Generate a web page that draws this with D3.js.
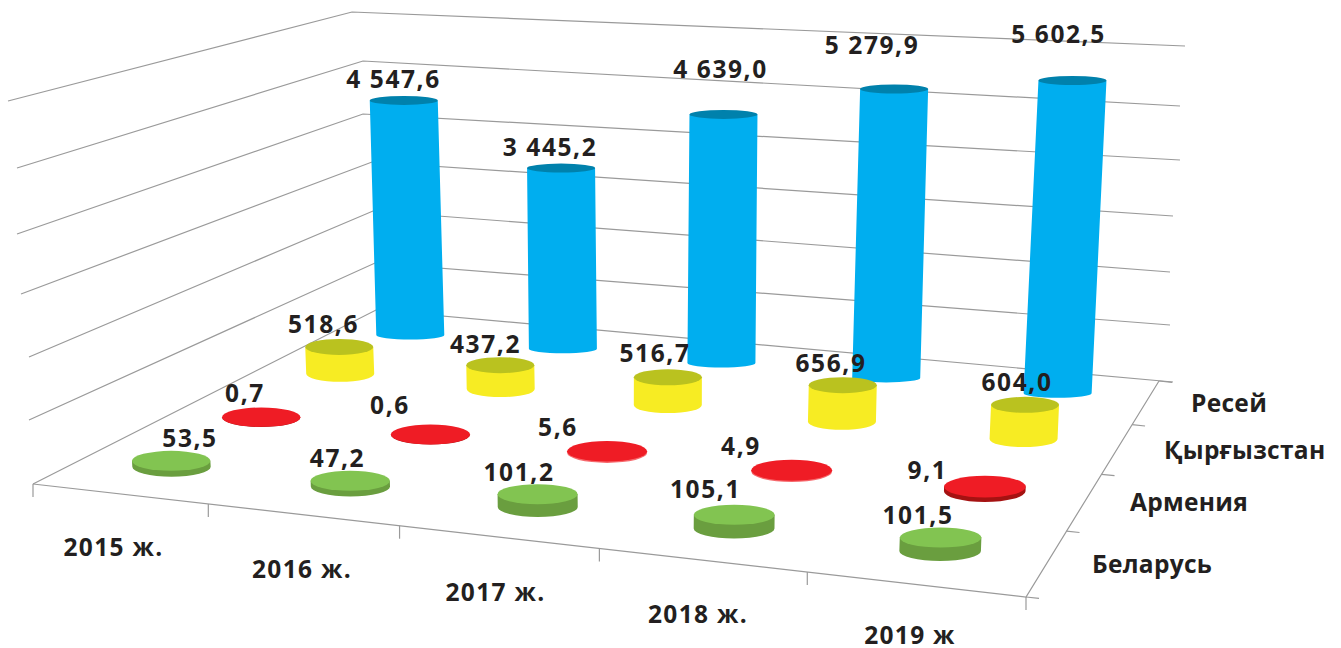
<!DOCTYPE html>
<html>
<head>
<meta charset="utf-8">
<script src="https://cdn.jsdelivr.net/npm/d3@7"></script>
<style>
html,body{margin:0;padding:0;background:#fff}
svg{display:block}
text{font-family:"Open Sans","Noto Sans",sans-serif;font-weight:700;fill:#231F20;font-size:24.5px}
text.val{letter-spacing:1.6px}
text.yr{letter-spacing:1.3px}
text.ser{letter-spacing:.3px}
</style>
</head>
<body>
<svg id="c" width="1341" height="648"></svg>
<script>
// ---- data ----
const years = ["2015 ж.", "2016 ж.", "2017 ж.", "2018 ж.", "2019 ж"];
const seriesNames = ["Беларусь", "Армения", "Қырғызстан", "Ресей"];
const belarus = [53.5, 47.2, 101.2, 105.1, 101.5];
const armenia = [0.7, 0.6, 5.6, 4.9, 9.1];
const kyrgyzstan = [518.6, 437.2, 516.7, 656.9, 604.0];
const russia = [4547.6, 3445.2, 4639.0, 5279.9, 5602.5];
const gridLevels = [0, 1000, 2000, 3000, 4000, 5000, 6000];

// ---- layout ----
const values = [belarus, armenia, kyrgyzstan, russia];
const sideColors = ["#6A9E3F", "#A51212", "#F7EC23", "#00AEEF"];
const topColors = ["#82C451", "#EF1C25", "#BAC21F", "#0081AC"];
const rxStart = [39, 39, 34, 34], rxEnd = [41, 41, 34, 34];
const ryStart = [10, 9.5, 8, 4.5], ryEnd = [10, 11, 8, 4.5];
const labelX = [[190,337.5,519,705.5,918],[245,390,558,741,927.5],[323.5,485.5,655,831,1017],[393.5,550,720.5,872,1058.5]];
const labelY = [[447,467,481,498,524],[402,414,436,455,479],[333,353,362,372,391],[88,156,78,54,43]];
const yearLabelX = [113.5,302,495.5,698,910], yearLabelY = [556,578,601,623,644];
const seriesLabelX = [1092,1130,1164,1191], seriesLabelY = [573,511,459,412];

const svg = d3.select("#c");

// floor: perspective map of the unit square, from its four screen corners
const Q = {x0:33,y0:484,x1:1026,y1:597,x2:1159,y2:381,x3:370,y3:312};
const dx1=Q.x1-Q.x2, dx2=Q.x3-Q.x2, sx=Q.x0-Q.x1+Q.x2-Q.x3;
const dy1=Q.y1-Q.y2, dy2=Q.y3-Q.y2, sy=Q.y0-Q.y1+Q.y2-Q.y3;
const det=dx1*dy2-dx2*dy1;
const g=(sx*dy2-dx2*sy)/det, h=(dx1*sy-sx*dy1)/det;
const a=Q.x1-Q.x0+g*Q.x1, b=Q.x3-Q.x0+h*Q.x3;
const d=Q.y1-Q.y0+g*Q.y1, e=Q.y3-Q.y0+h*Q.y3;
const project=(u,v)=>{const w=g*u+h*v+1;return {x:(a*u+b*v+Q.x0)/w,y:(d*u+e*v+Q.y0)/w,w};};

const uScale = d3.scaleLinear().domain([0,years.length]).range([0,1]);
const vScale = d3.scaleLinear().domain([0,seriesNames.length]).range([0,1]);
const tickU = d3.scaleLinear().domain([0,1,2,3,4,5]).range([0,.195,.398,.6,.8,1]);
const floorLift = d3.scaleLinear().domain([0,1]).range([0,-1]);
// value -> height; the picture's height axis is strongly compressed for small values
const heightScale = d3.scaleLinear().domain([0,6,10,50,105,500,6000]).range([0,1.5,5.5,5.6,13,30,382]);

// walls: grid lines through three edges of the frame
const L = gridLevels;
const leftX = d3.scaleLinear().domain(L).range([33,29,29,21,17,17,8]);
const leftY = d3.scaleLinear().domain(L).range([484,420,357,294,234,168,101]);
const cornerX = d3.scaleLinear().domain(L).range([376,375,373,372,363,363,352]);
const cornerY = d3.scaleLinear().domain(L).range([310,263,211,162,114,61,12]);
const rightX = d3.scaleLinear().domain(L).range([1173,1170,1170,1173,1180,1180,1185]);
const rightY = d3.scaleLinear().domain(L).range([382,325,272,216,160,106,46]);

const axisColor = "#9A9A9A";
const lineGen = d3.line().x(p=>p[0]).y(p=>p[1]);
const grid = svg.append("g").attr("fill","none").attr("stroke",axisColor).attr("stroke-width",1.2);
grid.selectAll("path.grid").data(gridLevels).join("path").attr("class","grid")
  .attr("d",l=>lineGen([[leftX(l),leftY(l)],[cornerX(l),cornerY(l)],[rightX(l),rightY(l)]]));

// floor front edge + right edge + ticks
const fl=project(0,0), fr=project(1,0), br=project(1,1);
grid.append("path").attr("d",lineGen([[fl.x,fl.y],[fr.x,fr.y],[br.x,br.y]]));
grid.selectAll("path.xt").data(d3.range(years.length+1)).join("path").attr("class","xt")
  .attr("d",i=>{const p=project(tickU(i),0);return lineGen([[p.x,p.y],[p.x,p.y+13]]);});
grid.selectAll("path.yt").data(d3.range(seriesNames.length+1)).join("path").attr("class","yt")
  .attr("d",j=>{const p=project(1,vScale(j));return lineGen([[p.x,p.y],[p.x+13,p.y+1.3]]);});

// cylinders, back to front
const vanishX = 650, vanishD = 8600;
const rows = d3.range(seriesNames.length).reverse();
rows.forEach(s=>{
  const gs = svg.append("g");
  const marks = values[s].map((val,i)=>{
    const u=uScale(i+.5), v=vScale(s+.5), p=project(u,v);
    const base=p.y+floorLift(v);
    const ht=heightScale(val)/p.w;
    const rx=d3.scaleLinear().domain([0,1]).range([rxStart[s],rxEnd[s]])(u);
    const ry=d3.scaleLinear().domain([0,1]).range([ryStart[s],ryEnd[s]])(u);
    return {val,x:p.x,y:base,tx:p.x+(p.x-vanishX)/vanishD*ht,ty:base-ht,rx,ry};
  });
  gs.selectAll("path.side").data(marks).join("path").attr("class","side")
    .attr("fill",m=>(s===1&&m.val<8&&m.val>1)?"#F6686C":sideColors[s])
    .attr("d",m=>`M${m.tx-m.rx},${m.ty}L${m.x-m.rx},${m.y}A${m.rx},${m.ry} 0 0 0 ${m.x+m.rx},${m.y}L${m.tx+m.rx},${m.ty}Z`);
  gs.selectAll("ellipse.top").data(marks).join("ellipse").attr("class","top")
    .attr("cx",m=>m.tx).attr("cy",m=>m.ty).attr("rx",m=>m.rx).attr("ry",m=>m.ry)
    .attr("fill",topColors[s]);
});

// value labels
const fmt = v=>{
  const [ip,fp]=v.toFixed(1).split(".");
  return ip.replace(/\B(?=(\d{3})+$)/g," ")+","+fp;
};
values.forEach((arr,s)=>{
  svg.append("g").selectAll("text").data(arr).join("text").attr("class","val")
    .attr("text-anchor","middle")
    .attr("x",(v,i)=>labelX[s][i]).attr("y",(v,i)=>labelY[s][i])
    .style("white-space","pre").text(fmt);
});
svg.append("g").selectAll("text").data(years).join("text").attr("class","yr")
  .attr("text-anchor","middle")
  .attr("x",(t,i)=>yearLabelX[i]).attr("y",(t,i)=>yearLabelY[i]).text(t=>t);
svg.append("g").selectAll("text").data(seriesNames).join("text").attr("class","ser")
  .attr("x",(t,i)=>seriesLabelX[i]).attr("y",(t,i)=>seriesLabelY[i]).text(t=>t);
</script>
</body>
</html>
